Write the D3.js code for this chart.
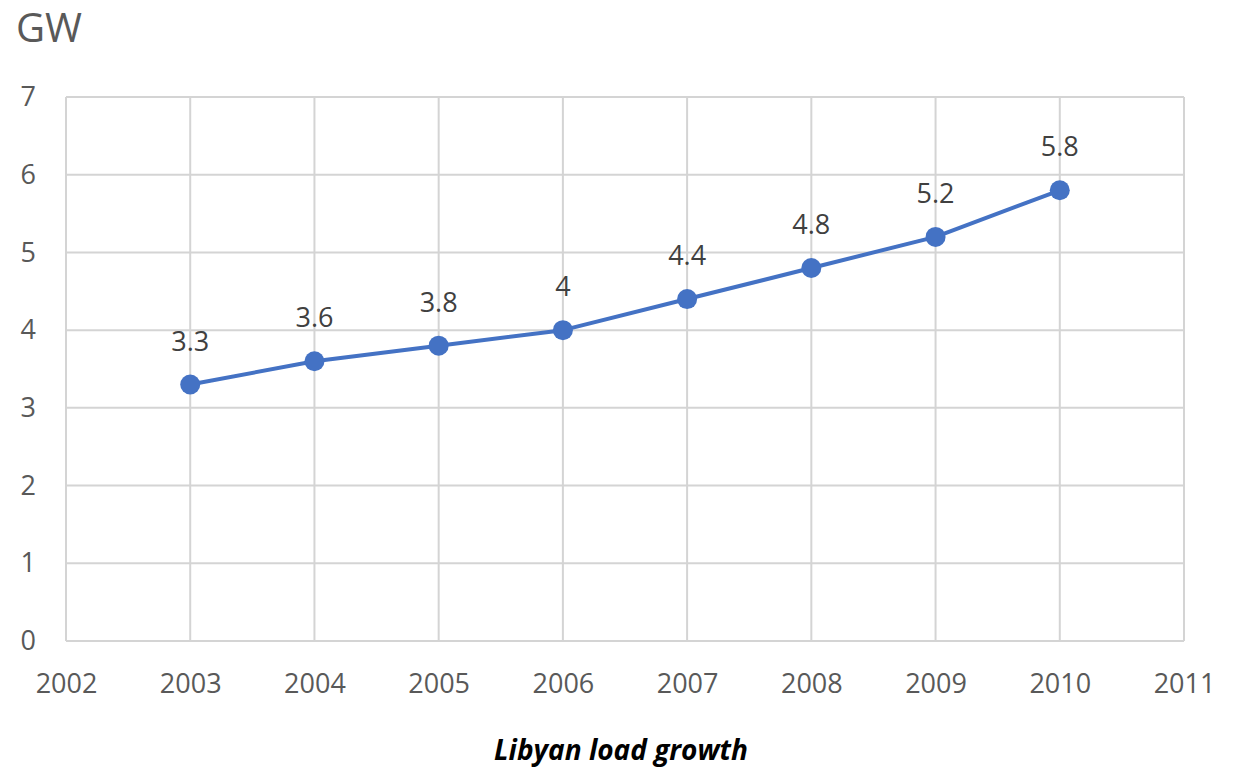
<!DOCTYPE html>
<html>
<head>
<meta charset="utf-8">
<script src="https://cdn.jsdelivr.net/npm/d3@7"></script>
<style>
  html, body { margin: 0; padding: 0; background: #fff; }
  svg { display: block; }
</style>
</head>
<body>
<svg id="chart" width="1236" height="770"></svg>
<script>
// Libyan electricity load, GW
const years = [2003, 2004, 2005, 2006, 2007, 2008, 2009, 2010];
const loadGW = [3.3, 3.6, 3.8, 4, 4.4, 4.8, 5.2, 5.8];
const xTicks = [2002, 2003, 2004, 2005, 2006, 2007, 2008, 2009, 2010, 2011];
const yTicks = [0, 1, 2, 3, 4, 5, 6, 7];

const svg = d3.select("#chart");
const font = "'Open Sans', 'Noto Sans', sans-serif";
const margin = { left: 66, right: 52, top: 97, bottom: 129 };
const W = 1236, H = 770;

const x = d3.scaleLinear().domain([2002, 2011]).range([margin.left, W - margin.right]);
const y = d3.scaleLinear().domain([0, 7]).range([H - margin.bottom, margin.top]);

// grid
const grid = svg.append("g").attr("stroke", "#d4d4d4").attr("stroke-width", 2);
grid.selectAll("line.h").data(yTicks).join("line")
  .attr("x1", x(2002)).attr("x2", x(2011))
  .attr("y1", d => y(d)).attr("y2", d => y(d));
grid.selectAll("line.v").data(xTicks).join("line")
  .attr("y1", y(0)).attr("y2", y(7))
  .attr("x1", d => x(d)).attr("x2", d => x(d));

// y axis labels
const yAxis = d3.axisLeft(y).tickValues(yTicks).tickSize(0).tickPadding(30).tickFormat(d3.format("d"));
svg.append("g").attr("transform", `translate(${margin.left},0)`).call(yAxis)
  .call(g => g.select(".domain").remove())
  .call(g => g.selectAll("text").attr("font-family", font).attr("font-size", 27).attr("fill", "#595959"));

// x axis labels
const xAxis = d3.axisBottom(x).tickValues(xTicks).tickSize(0).tickPadding(33).tickFormat(d3.format("d"));
svg.append("g").attr("transform", `translate(0,${y(0)})`).call(xAxis)
  .call(g => g.select(".domain").remove())
  .call(g => g.selectAll("text").attr("font-family", font).attr("font-size", 27).attr("fill", "#595959"));

// series line
const line = d3.line().x((d, i) => x(years[i])).y(d => y(d));
svg.append("path").datum(loadGW)
  .attr("d", line).attr("fill", "none")
  .attr("stroke", "#4472c4").attr("stroke-width", 4).attr("stroke-linejoin", "round");

svg.selectAll("circle.pt").data(loadGW).join("circle")
  .attr("cx", (d, i) => x(years[i])).attr("cy", d => y(d)).attr("r", 10)
  .attr("fill", "#4472c4");

// value labels
svg.selectAll("text.val").data(loadGW).join("text")
  .attr("x", (d, i) => x(years[i])).attr("y", d => y(d) - 34)
  .attr("text-anchor", "middle")
  .attr("font-family", font).attr("font-size", 27).attr("fill", "#404040")
  .text(d => d);

// unit label
svg.append("text").attr("x", 16).attr("y", 42)
  .attr("font-family", font).attr("font-size", 40).attr("fill", "#595959")
  .text("GW");

// caption
svg.append("text").attr("x", 621).attr("y", 760)
  .attr("text-anchor", "middle")
  .attr("font-family", font).attr("font-size", 28).attr("font-weight", "bold").attr("font-style", "italic")
  .attr("fill", "#000")
  .text("Libyan load growth");
</script>
</body>
</html>
